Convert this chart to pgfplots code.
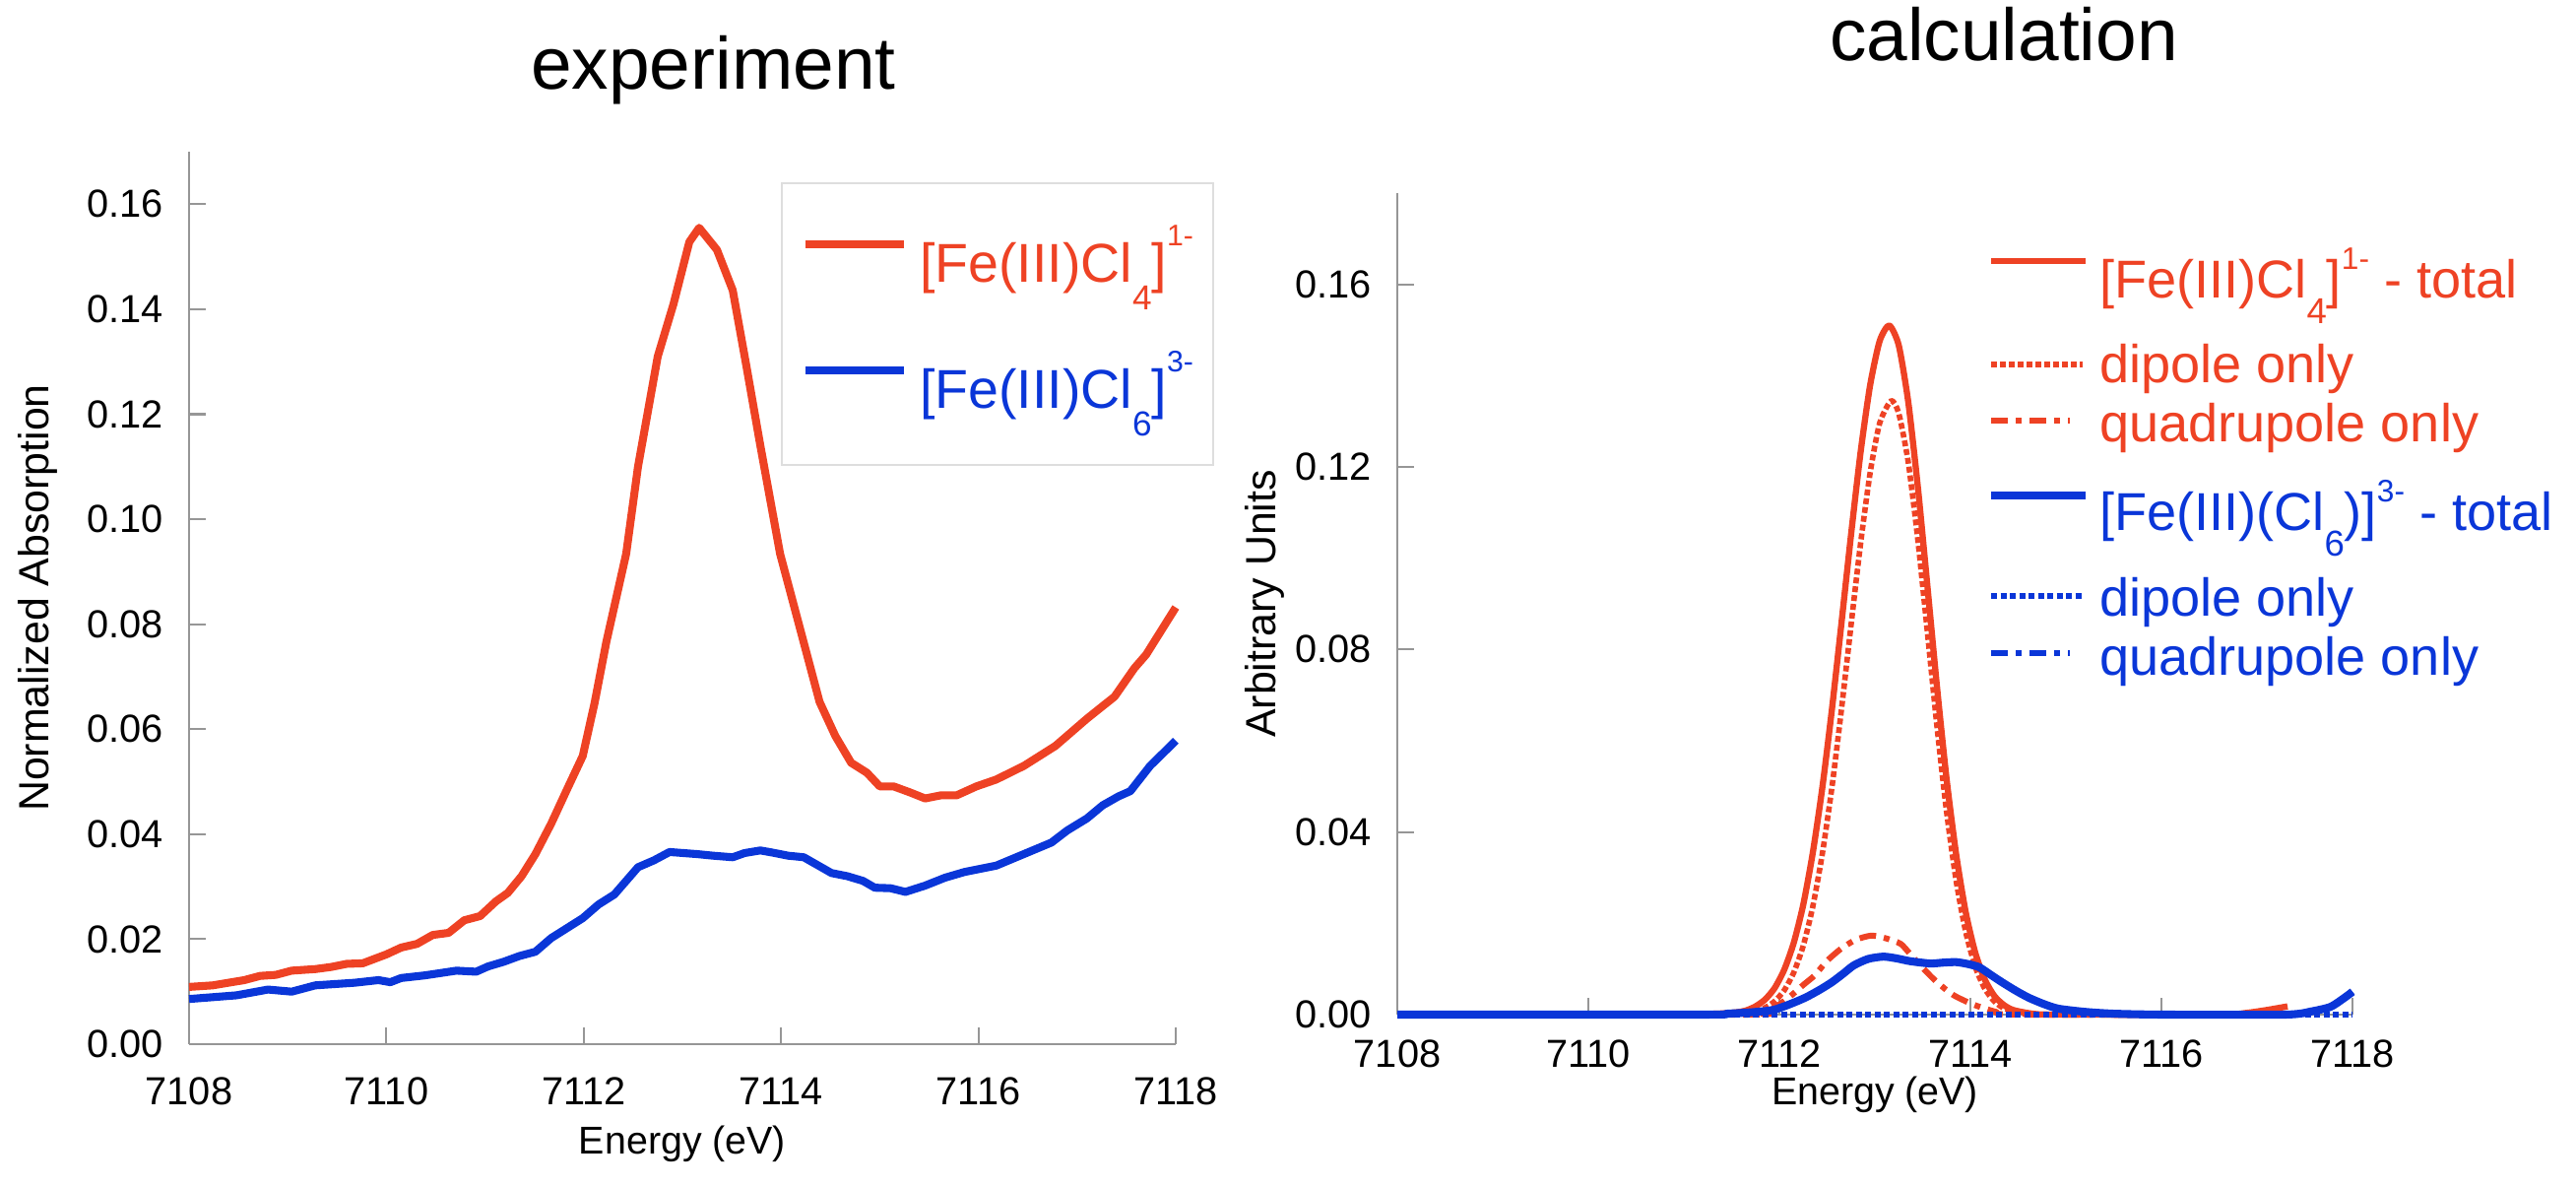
\documentclass[border=0pt]{standalone}
\usepackage{fontspec}
\setmainfont{Liberation Sans}
\usepackage{pgfplots}
\pgfplotsset{compat=1.18}

\definecolor{fered}{RGB}{238,66,36}
\definecolor{feblue}{RGB}{10,54,216}
\definecolor{axgray}{RGB}{150,150,150}

\newcommand{\tickfont}{\fontsize{11.3pt}{13pt}\selectfont}
\newcommand{\labfont}{\fontsize{11.2pt}{13pt}\selectfont}
\newcommand{\ylabfont}{\fontsize{12.2pt}{14pt}\selectfont}
\newcommand{\titfont}{\fontsize{21.3pt}{25pt}\selectfont}

% sub- and superscripts of the legend formulas
\newcommand{\subL}[1]{\raisebox{-0.28cm}{\fontsize{10pt}{10pt}\selectfont #1}}
\newcommand{\supL}[1]{\raisebox{0.37cm}{\fontsize{8.6pt}{9pt}\selectfont #1}}
\newcommand{\subR}[1]{\raisebox{-0.26cm}{\fontsize{10.4pt}{10pt}\selectfont #1}}
\newcommand{\supR}[1]{\raisebox{0.29cm}{\fontsize{9pt}{9pt}\selectfont #1}}
% legend text with a fixed row height and depth
\newcommand{\lgt}[3]{\rule[-#2]{0pt}{\dimexpr #1+#2\relax}\smash{#3}}

\pgfplotsset{
  limg/.style 2 args={legend image code/.code={\draw[##1] (0cm,#1) -- (#2,#1);}},
  panel/.style={
    scale only axis, anchor=south west, clip=false,
    xmin=7108, xmax=7118, ymin=0,
    axis x line*=bottom, axis y line*=left,
    axis line style={axgray, line width=0.6pt},
    tick align=inside, major tick length=0.17cm,
    tick style={axgray, line width=0.6pt},
    xtick={7108,7110,7112,7114,7116,7118},
    xticklabels={7108,7110,7112,7114,7116,7118},
    xticklabel style={font=\tickfont, inner sep=0pt, yshift=-0.33cm},
    yticklabel style={font=\tickfont, inner sep=0pt, xshift=-0.26cm},
    xlabel style={font=\labfont},
    ylabel style={font=\ylabfont},
    every axis plot/.append style={line join=round},
  },
}

\begin{document}
\begin{tikzpicture}
\path[use as bounding box] (0,0) rectangle (26.16cm,12.05cm);

% ---------------- experiment ----------------
\begin{axis}[panel,
  at={(1.92cm,1.45cm)}, width=10.02cm, height=9.06cm,
  ymax=0.17,
  ytick={0,0.02,0.04,0.06,0.08,0.10,0.12,0.14,0.16},
  yticklabels={0.00,0.02,0.04,0.06,0.08,0.10,0.12,0.14,0.16},
  xlabel={Energy (eV)}, ylabel={Normalized Absorption},
  xlabel style={at={(axis description cs:0.5,-0.112)}, anchor=center},
  ylabel style={at={(axis description cs:-0.1530,0.5)}, anchor=center},
  title={experiment},
  every axis title/.style={at={(axis description cs:0.5314,1.0706)}, anchor=base, font=\titfont, inner sep=0pt},
  legend cell align=left,
  legend style={at={(axis description cs:0.5998,0.9658)}, anchor=north west,
    draw=black!13, line width=0.6pt, fill=white, inner xsep=0.2cm, inner ysep=0pt,
    row sep=0pt, column sep=0.12cm, font=\fontsize{15.8pt}{18pt}\selectfont,
    cells={anchor=base west}, nodes={inner sep=0pt, text depth={}}},
]
\addplot[fered, line width=2.3pt, limg={0.38cm}{1.0cm}] coordinates {
(7108.00,0.0109) (7108.24,0.0112) (7108.40,0.0117) (7108.56,0.0122) (7108.72,0.0130)
(7108.88,0.0132) (7109.04,0.0140) (7109.28,0.0143) (7109.44,0.0147) (7109.60,0.0153)
(7109.76,0.0154) (7110.00,0.0171) (7110.15,0.0184) (7110.31,0.0191) (7110.47,0.0208)
(7110.63,0.0212) (7110.79,0.0236) (7110.95,0.0244) (7111.11,0.0272) (7111.23,0.0288)
(7111.37,0.0320) (7111.51,0.0362) (7111.67,0.0420) (7111.83,0.0485) (7111.99,0.0549)
(7112.11,0.0650) (7112.23,0.0767) (7112.43,0.0934) (7112.55,0.1100) (7112.75,0.1310)
(7112.91,0.1410) (7113.07,0.1528) (7113.17,0.1555) (7113.35,0.1513) (7113.51,0.1436)
(7113.65,0.1290) (7113.79,0.1140) (7113.99,0.0934) (7114.19,0.0793) (7114.39,0.0652)
(7114.55,0.0587) (7114.71,0.0536) (7114.87,0.0517) (7115.00,0.0491) (7115.14,0.0491)
(7115.30,0.0480) (7115.46,0.0468) (7115.62,0.0474) (7115.78,0.0474) (7115.98,0.0491)
(7116.18,0.0504) (7116.46,0.0530) (7116.78,0.0568) (7117.10,0.0620) (7117.38,0.0662)
(7117.58,0.0716) (7117.70,0.0742) (7118.00,0.0832)
};
\addlegendentry{\color{fered}\lgt{1.0cm}{0cm}{[Fe(III)Cl\subL{4}]\supL{1-}}}
\addplot[feblue, line width=2.3pt, limg={0.38cm}{1.0cm}] coordinates {
(7108.00,0.0086) (7108.48,0.0093) (7108.80,0.0104) (7109.04,0.0100) (7109.28,0.0112)
(7109.68,0.0117) (7109.92,0.0122) (7110.04,0.0118) (7110.15,0.0126) (7110.39,0.0131)
(7110.71,0.0140) (7110.91,0.0138) (7111.03,0.0148) (7111.19,0.0157) (7111.35,0.0168)
(7111.51,0.0176) (7111.67,0.0202) (7111.99,0.0240) (7112.15,0.0266) (7112.31,0.0285)
(7112.55,0.0337) (7112.71,0.0350) (7112.87,0.0366) (7113.15,0.0362) (7113.31,0.0359)
(7113.51,0.0356) (7113.63,0.0364) (7113.79,0.0369) (7113.91,0.0365) (7114.07,0.0359)
(7114.23,0.0356) (7114.51,0.0326) (7114.67,0.0320) (7114.83,0.0311) (7114.95,0.0298)
(7115.11,0.0297) (7115.26,0.0290) (7115.46,0.0302) (7115.66,0.0317) (7115.86,0.0328)
(7116.18,0.0340) (7116.46,0.0362) (7116.74,0.0384) (7116.90,0.0407) (7117.10,0.0430)
(7117.26,0.0455) (7117.42,0.0472) (7117.54,0.0482) (7117.74,0.0530) (7118.00,0.0578)
};
\addlegendentry{\color{feblue}\lgt{1.28cm}{0.58cm}{[Fe(III)Cl\subL{6}]\supL{3-}}}
\end{axis}

% ---------------- calculation ----------------
\begin{axis}[panel,
  at={(14.19cm,1.75cm)}, width=9.70cm, height=8.34cm,
  ymax=0.18,
  ytick={0,0.04,0.08,0.12,0.16},
  yticklabels={0.00,0.04,0.08,0.12,0.16},
  xticklabel style={yshift=0.08cm},
  xlabel={Energy (eV)}, ylabel={Arbitrary Units},
  xlabel style={at={(axis description cs:0.5,-0.098)}, anchor=center},
  ylabel style={at={(axis description cs:-0.139,0.5)}, anchor=center},
  title={calculation},
  every axis title/.style={at={(axis description cs:0.635,1.1607)}, anchor=base, font=\titfont, inner sep=0pt},
  legend cell align=left,
  legend style={at={(axis description cs:0.6175,0.9448)}, anchor=north west,
    draw=none, fill=none, inner sep=0pt, outer sep=0pt,
    row sep=0pt, column sep=0.10cm, font=\fontsize{15.4pt}{18pt}\selectfont,
    cells={anchor=base west}, nodes={inner sep=0pt, text depth={}}},
]
% [Fe(III)Cl4]1- total
\addplot[fered, line width=1.8pt, smooth, tension=0.4, limg={0.37cm}{0.96cm}] coordinates {
(7108.00,0) (7110.00,0) (7111.00,0.0001) (7111.35,0.0002) (7111.55,0.0005)
(7111.65,0.0009) (7111.75,0.0018) (7111.85,0.0033) (7111.95,0.0058) (7112.05,0.0098)
(7112.15,0.0157) (7112.25,0.0241) (7112.35,0.0355) (7112.45,0.0498) (7112.55,0.0669)
(7112.65,0.0858) (7112.75,0.1051) (7112.85,0.1232) (7112.95,0.1379) (7113.05,0.1476)
(7113.15,0.1510) (7113.25,0.1466) (7113.35,0.1341) (7113.45,0.1155) (7113.55,0.0938)
(7113.65,0.0718) (7113.75,0.0517) (7113.85,0.0352) (7113.95,0.0225) (7114.05,0.0136)
(7114.15,0.0077) (7114.25,0.0041) (7114.35,0.0021) (7114.45,0.0010) (7114.65,0.0002)
(7114.90,0) (7116.60,0) (7116.90,0.0004) (7117.10,0.0010) (7117.32,0.0018)
};
\addlegendentry{\color{fered}\lgt{0.60cm}{0.10cm}{[Fe(III)Cl\subR{4}]\supR{1-} - total}}
% dipole only
\addplot[fered, line width=1.6pt, smooth, tension=0.4, dash pattern=on 0.06cm off 0.03cm, limg={0.18cm}{0.93cm}] coordinates {
(7108.00,0) (7111.60,0) (7111.75,0.0007) (7111.85,0.0015) (7111.95,0.0029)
(7112.05,0.0053) (7112.15,0.0092) (7112.25,0.0151) (7112.35,0.0237) (7112.45,0.0353)
(7112.55,0.0498) (7112.65,0.0669) (7112.75,0.0853) (7112.85,0.1032) (7112.95,0.1187)
(7113.05,0.1296) (7113.17,0.1345) (7113.25,0.1317) (7113.35,0.1209) (7113.45,0.1039)
(7113.55,0.0837) (7113.65,0.0631) (7113.75,0.0445) (7113.85,0.0294) (7113.95,0.0182)
(7114.05,0.0105) (7114.15,0.0057) (7114.25,0.0029) (7114.35,0.0014) (7114.55,0.0002)
(7114.80,0) (7117.30,0)
};
\addlegendentry{\color{fered}\lgt{0.76cm}{0.10cm}{dipole only}}
% quadrupole only
\addplot[fered, line width=1.7pt, smooth, tension=0.4, dash pattern=on 0.17cm off 0.08cm on 0.06cm off 0.08cm, limg={0.21cm}{0.80cm}] coordinates {
(7108.00,0) (7111.70,0) (7111.90,0.0010) (7112.00,0.0022) (7112.13,0.0043)
(7112.25,0.0065) (7112.37,0.0086) (7112.50,0.0118) (7112.65,0.0145) (7112.80,0.0164)
(7112.96,0.0173) (7113.10,0.0168) (7113.27,0.0155) (7113.40,0.0125) (7113.52,0.0098)
(7113.65,0.0071) (7113.82,0.0043) (7114.03,0.0022) (7114.27,0.0006) (7114.50,0)
(7117.30,0)
};
\addlegendentry{\color{fered}\lgt{0.50cm}{0.10cm}{quadrupole only}}
% [Fe(III)(Cl6)]3- total
\addplot[feblue, line width=2.3pt, smooth, tension=0.4, limg={0.35cm}{0.96cm}] coordinates {
(7108.00,0) (7111.20,0) (7111.45,0.0002) (7111.70,0.0005) (7111.93,0.0010)
(7112.10,0.0022) (7112.27,0.0037) (7112.42,0.0054) (7112.55,0.0071) (7112.67,0.0090)
(7112.78,0.0108) (7112.93,0.0122) (7113.09,0.0127) (7113.23,0.0123) (7113.37,0.0117)
(7113.58,0.0112) (7113.72,0.0114) (7113.85,0.0115) (7113.97,0.0111) (7114.09,0.0104)
(7114.20,0.0089) (7114.33,0.0071) (7114.47,0.0053) (7114.61,0.0037) (7114.77,0.0023)
(7114.92,0.0013) (7115.20,0.0006) (7115.50,0.0002) (7116.00,0) (7117.30,0)
(7117.57,0.0007) (7117.77,0.0017) (7117.91,0.0036) (7118.00,0.0050)
};
\addlegendentry{\color{feblue}\lgt{0.80cm}{0.10cm}{[Fe(III)(Cl\subR{6})]\supR{3-} - total}}
% dipole only
\addplot[feblue, line width=1.6pt, dash pattern=on 0.06cm off 0.035cm, limg={0.20cm}{0.93cm}] coordinates {
(7108.00,0) (7118.00,0)
};
\addlegendentry{\color{feblue}\lgt{0.77cm}{0.10cm}{dipole only}}
% quadrupole only
\addplot[feblue, line width=1.6pt, smooth, tension=0.4, dash pattern=on 0.17cm off 0.08cm on 0.06cm off 0.08cm, limg={0.22cm}{0.80cm}] coordinates {
(7108.00,0) (7111.20,0) (7111.45,0.0002) (7111.70,0.0005) (7111.93,0.0010)
(7112.10,0.0022) (7112.27,0.0037) (7112.42,0.0054) (7112.55,0.0071) (7112.67,0.0090)
(7112.78,0.0108) (7112.93,0.0122) (7113.09,0.0127) (7113.23,0.0123) (7113.37,0.0117)
(7113.58,0.0112) (7113.72,0.0114) (7113.85,0.0115) (7113.97,0.0111) (7114.09,0.0104)
(7114.20,0.0089) (7114.33,0.0071) (7114.47,0.0053) (7114.61,0.0037) (7114.77,0.0023)
(7114.92,0.0013) (7115.20,0.0006) (7115.50,0.0002) (7116.00,0) (7117.30,0)
(7117.57,0.0007) (7117.77,0.0017) (7117.91,0.0036) (7118.00,0.0050)
};
\addlegendentry{\color{feblue}\lgt{0.50cm}{0.10cm}{quadrupole only}}
\end{axis}
\end{tikzpicture}
\end{document}
